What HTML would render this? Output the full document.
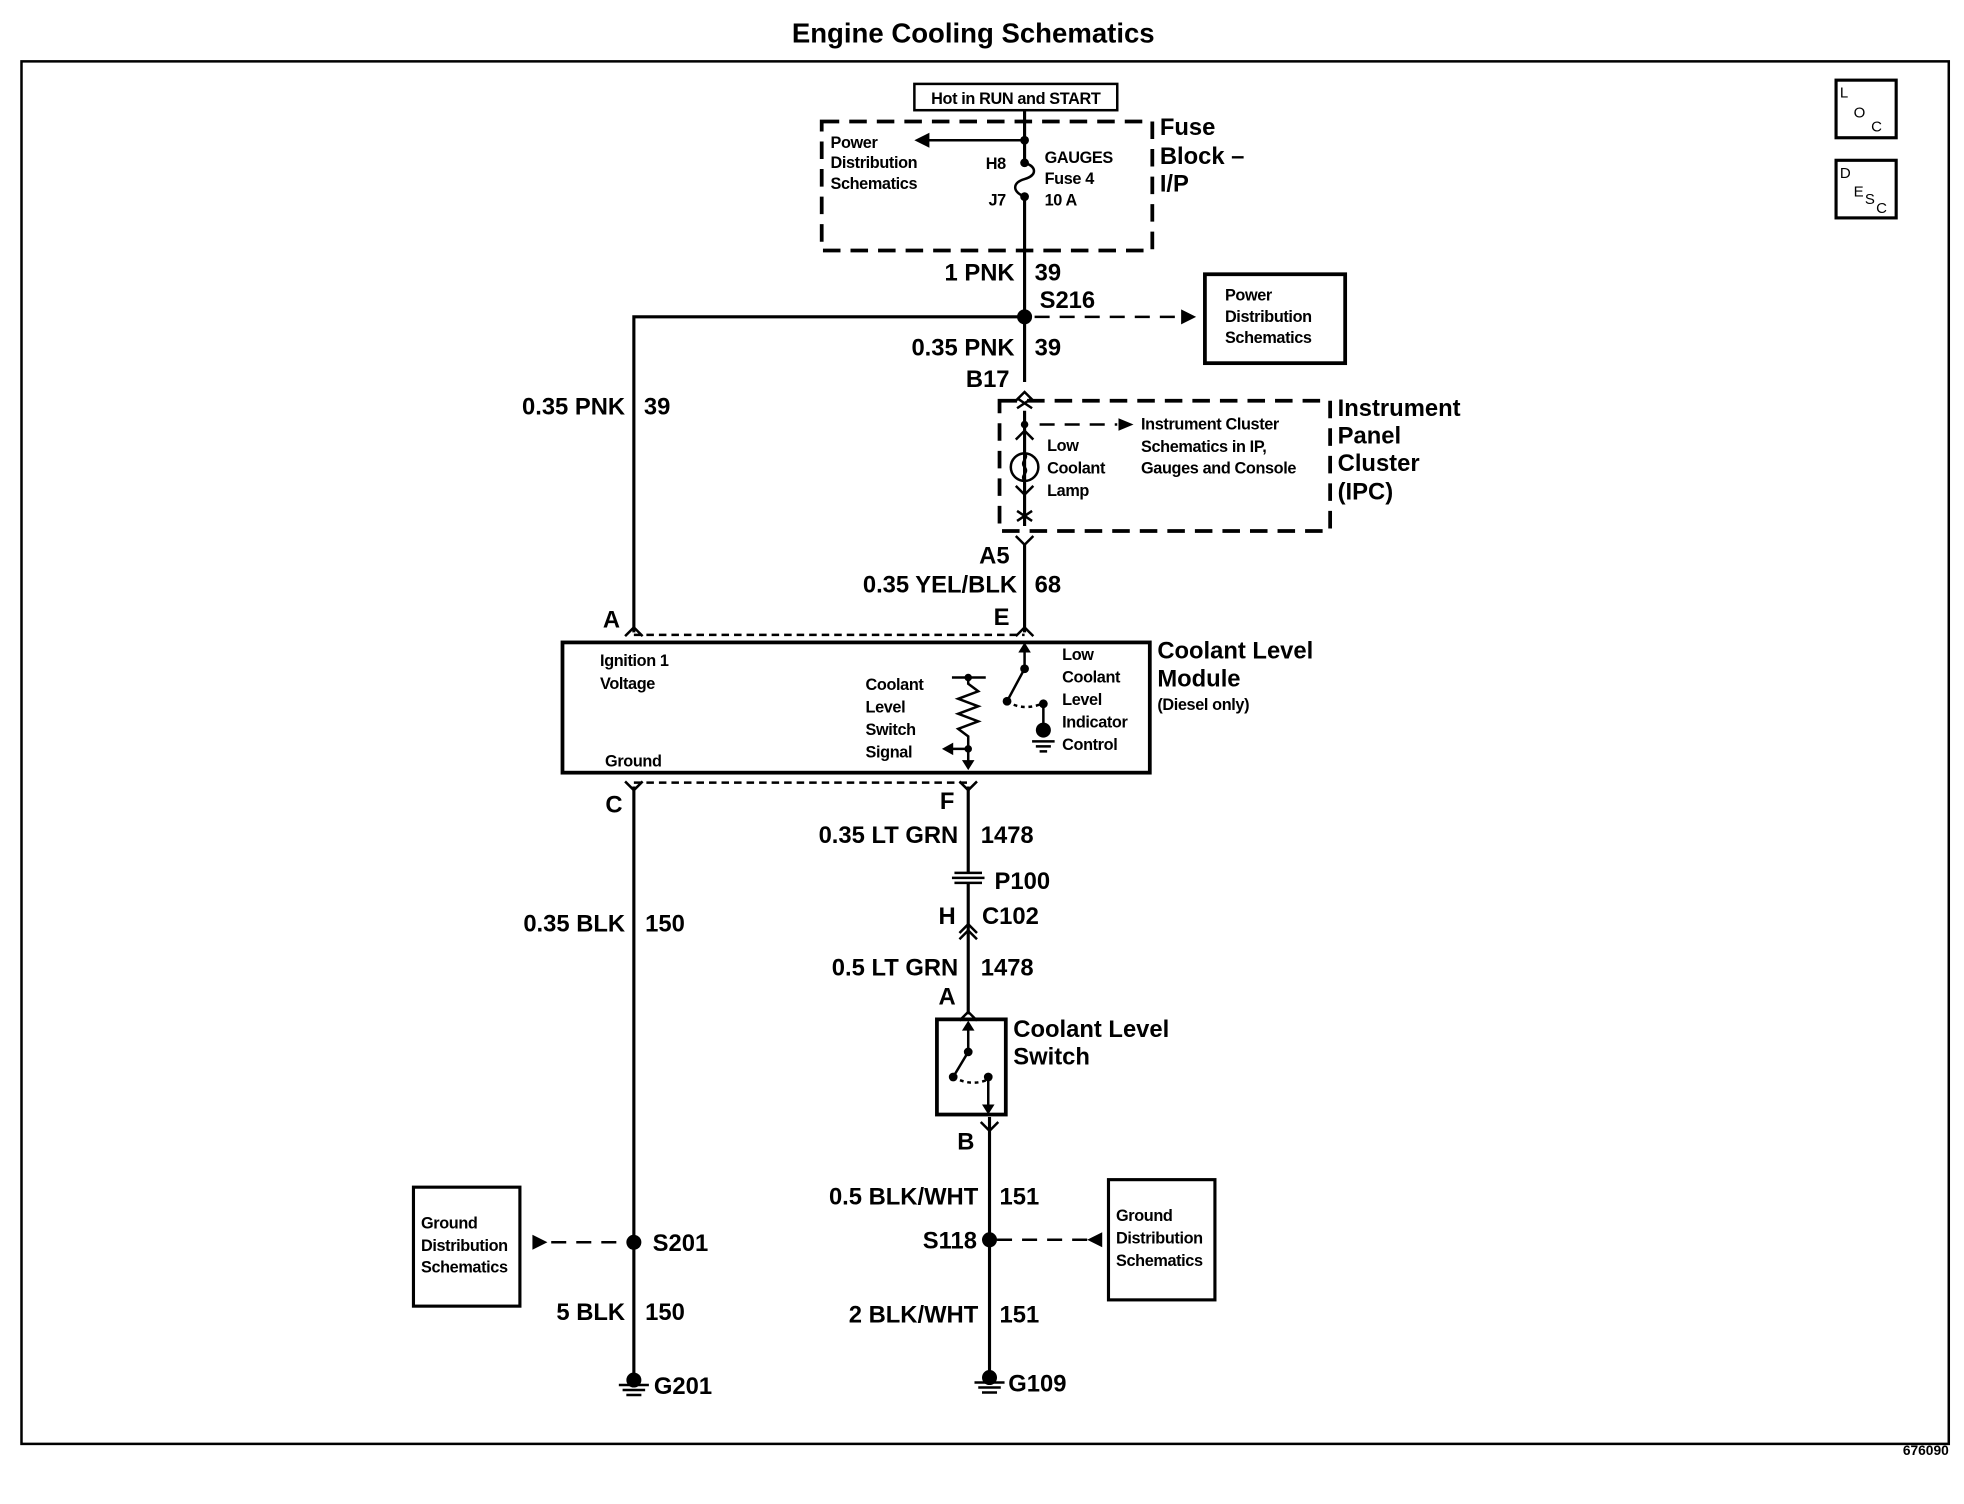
<!DOCTYPE html>
<html><head><meta charset="utf-8"><style>
html,body{margin:0;padding:0;background:#fff}
svg{display:block}
text{font-family:"Liberation Sans",Arial,sans-serif;font-weight:bold;fill:#000}
.l{font-size:19px}
.s{font-size:13px;letter-spacing:-0.3px}
</style></head><body>
<svg width="1964" height="1504" viewBox="0 0 1568 1201" xmlns="http://www.w3.org/2000/svg">
<g stroke="#000" fill="none" stroke-width="2">
<rect x="17" y="49" width="1539" height="1104"/>
<rect x="1466" y="64" width="48" height="46" stroke-width="2.5"/>
<rect x="1466" y="128" width="48" height="46" stroke-width="2.5"/>
<rect x="730" y="67" width="162" height="21"/>
<rect x="656" y="97" width="264" height="103" stroke-width="3" stroke-dasharray="14,8"/>
<rect x="962" y="219" width="112" height="71" stroke-width="3"/>
<rect x="798" y="320" width="264" height="104" stroke-width="3" stroke-dasharray="14,8"/>
<rect x="449" y="513" width="469" height="104" stroke-width="3"/>
<rect x="748" y="814" width="55" height="76" stroke-width="3"/>
<rect x="330" y="948" width="85" height="95" stroke-width="2.5"/>
<rect x="885" y="942" width="85" height="96" stroke-width="2.5"/>
<!-- main wire -->
<path d="M818 88V130M818 157V305M818 328V420M818 434V505" stroke-width="2.5"/>
<path d="M818 130c10 3 10 10 0 13c-10 3-10 10 0 14"/>
<path d="M818 112H740"/>
<path d="M818 253H506V505" stroke-width="2.5"/>
<path d="M826 253H945" stroke-dasharray="12,8"/>
<path d="M830 339H892" stroke-dasharray="12,8"/>
<!-- chevrons -->
<path d="M811 320l7-7 7 7M811 351l7-7 7 7M811 388l7 7 7-7M811 428l7 7 7-7M499 508l7-7 7 7M811 508l7-7 7 7M499 624l7 7 7-7M766 624l7 7 7-7M766 745l7-7 7 7M766 750l7-7 7 7M766 815l7-7 7 7M783 896l7 7 7-7"/>
<path d="M812 318l12 8M824 318l-12 8M812 408l12 8M824 408l-12 8"/>
<circle cx="818" cy="373" r="11"/>
<path d="M818 362c4 4-4 6 0 11s-4 6 0 11"/>
<path d="M506 507H818M506 625H773" stroke-dasharray="6,4"/>
<!-- module internals -->
<path d="M818 517V534L804 560"/>
<path d="M804 560q12 8 28 2" stroke-dasharray="3,3"/>
<path d="M833 562V583M824 592H842M827 596H839M830 600H836"/>
<path d="M760 541H787M773 541V546l8 6-16 6 16 6-16 6 16 6-16 6 8 6V613M773 598H760"/>
<!-- lower wires -->
<path d="M773 628V697M773 705V810M790 892V1100M506 628V1100" stroke-width="2.5"/>
<path d="M762 697H784M760 701H786M762 705H784" stroke-width="2"/>
<path d="M773 818V840L761 860"/>
<path d="M761 860q14 8 28 2" stroke-dasharray="3,3"/>
<path d="M789 860V886"/>
<path d="M796 990H870M440 992H500" stroke-dasharray="12,8"/>
<path d="M778 1104H802M781 1108H799M784 1112H796M494 1106H518M497 1110H515M500 1114H512"/>
</g>
<g fill="#000">
<circle cx="818" cy="112" r="3.5"/><circle cx="818" cy="130" r="3.5"/><circle cx="818" cy="157" r="3.5"/>
<circle cx="818" cy="253" r="6"/>
<path d="M730 112l12-6v12z"/>
<path d="M955 253l-12-6v12z"/>
<path d="M905 339l-12-5v10z"/>
<circle cx="818" cy="339" r="3"/>
<path d="M818 513l-5 8h10zM818 534"/>
<circle cx="818" cy="534" r="3.5"/><circle cx="804" cy="560" r="3.5"/><circle cx="833" cy="562" r="3.5"/>
<circle cx="833" cy="583" r="6"/>
<circle cx="773" cy="541" r="3"/><circle cx="773" cy="598" r="3"/>
<path d="M752 598l9-5v10zM773 615l-5-8h10z"/>
<path d="M773 815l-5 8h10z"/>
<circle cx="773" cy="840" r="3.5"/><circle cx="761" cy="860" r="3.5"/><circle cx="789" cy="860" r="3.5"/>
<path d="M789 890l-5-8h10z"/>
<circle cx="790" cy="990" r="6"/><circle cx="506" cy="992" r="6"/>
<path d="M868 990l12-6v12zM437 992l-12-6v12z"/>
<circle cx="790" cy="1100" r="6"/><circle cx="506" cy="1102" r="6"/>
</g>
<text x="777" y="34" text-anchor="middle" style="font-size:22px">Engine Cooling Schematics</text>
<text x="1556" y="1162" text-anchor="end" style="font-size:11px">676090</text>
<text x="1469" y="78" style="font-size:12px;font-weight:normal">L</text>
<text x="1480" y="94" style="font-size:12px;font-weight:normal">O</text>
<text x="1494" y="105" style="font-size:12px;font-weight:normal">C</text>
<text x="1469" y="142" style="font-size:12px;font-weight:normal">D</text>
<text x="1480" y="157" style="font-size:12px;font-weight:normal">E</text>
<text x="1489" y="163" style="font-size:12px;font-weight:normal">S</text>
<text x="1498" y="170" style="font-size:12px;font-weight:normal">C</text>
<text x="811" y="83" text-anchor="middle" class="s">Hot in RUN and START</text>
<text class="s" x="663" y="118">Power</text><text class="s" x="663" y="134">Distribution</text><text class="s" x="663" y="151">Schematics</text>
<text class="s" x="803" y="135" text-anchor="end">H8</text><text class="s" x="803" y="164" text-anchor="end">J7</text>
<text class="s" x="834" y="130">GAUGES</text><text class="s" x="834" y="147">Fuse 4</text><text class="s" x="834" y="164">10 A</text>
<text class="l" x="926" y="108">Fuse</text><text class="l" x="926" y="131">Block –</text><text class="l" x="926" y="153">I/P</text>
<text class="l" x="810" y="224" text-anchor="end">1 PNK</text><text class="l" x="826" y="224">39</text>
<text class="l" x="830" y="246">S216</text>
<text class="s" x="978" y="240">Power</text><text class="s" x="978" y="257">Distribution</text><text class="s" x="978" y="274">Schematics</text>
<text class="l" x="810" y="284" text-anchor="end">0.35 PNK</text><text class="l" x="826" y="284">39</text>
<text class="l" x="806" y="309" text-anchor="end">B17</text>
<text class="l" x="499" y="331" text-anchor="end">0.35 PNK</text><text class="l" x="514" y="331">39</text>
<text class="s" x="911" y="343">Instrument Cluster</text><text class="s" x="911" y="361">Schematics in IP,</text><text class="s" x="911" y="378">Gauges and Console</text>
<text class="s" x="836" y="360">Low</text><text class="s" x="836" y="378">Coolant</text><text class="s" x="836" y="396">Lamp</text>
<text class="l" x="1068" y="332">Instrument</text><text class="l" x="1068" y="354">Panel</text><text class="l" x="1068" y="376">Cluster</text><text class="l" x="1068" y="399">(IPC)</text>
<text class="l" x="806" y="450" text-anchor="end">A5</text>
<text class="l" x="812" y="473" text-anchor="end">0.35 YEL/BLK</text><text class="l" x="826" y="473">68</text>
<text class="l" x="806" y="499" text-anchor="end">E</text>
<text class="l" x="495" y="501" text-anchor="end">A</text>
<text class="s" x="479" y="532">Ignition 1</text><text class="s" x="479" y="550">Voltage</text><text class="s" x="483" y="612">Ground</text>
<text class="s" x="691" y="551">Coolant</text><text class="s" x="691" y="569">Level</text><text class="s" x="691" y="587">Switch</text><text class="s" x="691" y="605">Signal</text>
<text class="s" x="848" y="527">Low</text><text class="s" x="848" y="545">Coolant</text><text class="s" x="848" y="563">Level</text><text class="s" x="848" y="581">Indicator</text><text class="s" x="848" y="599">Control</text>
<text class="l" x="924" y="526">Coolant Level</text><text class="l" x="924" y="548">Module</text><text class="s" x="924" y="567">(Diesel only)</text>
<text class="l" x="497" y="649" text-anchor="end">C</text><text class="l" x="762" y="646" text-anchor="end">F</text>
<text class="l" x="765" y="673" text-anchor="end">0.35 LT GRN</text><text class="l" x="783" y="673">1478</text>
<text class="l" x="794" y="710">P100</text>
<text class="l" x="763" y="738" text-anchor="end">H</text><text class="l" x="784" y="738">C102</text>
<text class="l" x="499" y="744" text-anchor="end">0.35 BLK</text><text class="l" x="515" y="744">150</text>
<text class="l" x="765" y="779" text-anchor="end">0.5 LT GRN</text><text class="l" x="783" y="779">1478</text>
<text class="l" x="763" y="802" text-anchor="end">A</text>
<text class="l" x="809" y="828">Coolant Level</text><text class="l" x="809" y="850">Switch</text>
<text class="l" x="778" y="918" text-anchor="end">B</text>
<text class="l" x="781" y="962" text-anchor="end">0.5 BLK/WHT</text><text class="l" x="798" y="962">151</text>
<text class="l" x="780" y="997" text-anchor="end">S118</text>
<text class="s" x="891" y="975">Ground</text><text class="s" x="891" y="993">Distribution</text><text class="s" x="891" y="1011">Schematics</text>
<text class="s" x="336" y="981">Ground</text><text class="s" x="336" y="999">Distribution</text><text class="s" x="336" y="1016">Schematics</text>
<text class="l" x="521" y="999">S201</text>
<text class="l" x="499" y="1054" text-anchor="end">5 BLK</text><text class="l" x="515" y="1054">150</text>
<text class="l" x="781" y="1056" text-anchor="end">2 BLK/WHT</text><text class="l" x="798" y="1056">151</text>
<text class="l" x="805" y="1111">G109</text><text class="l" x="522" y="1113">G201</text>
</svg>
</body></html>
